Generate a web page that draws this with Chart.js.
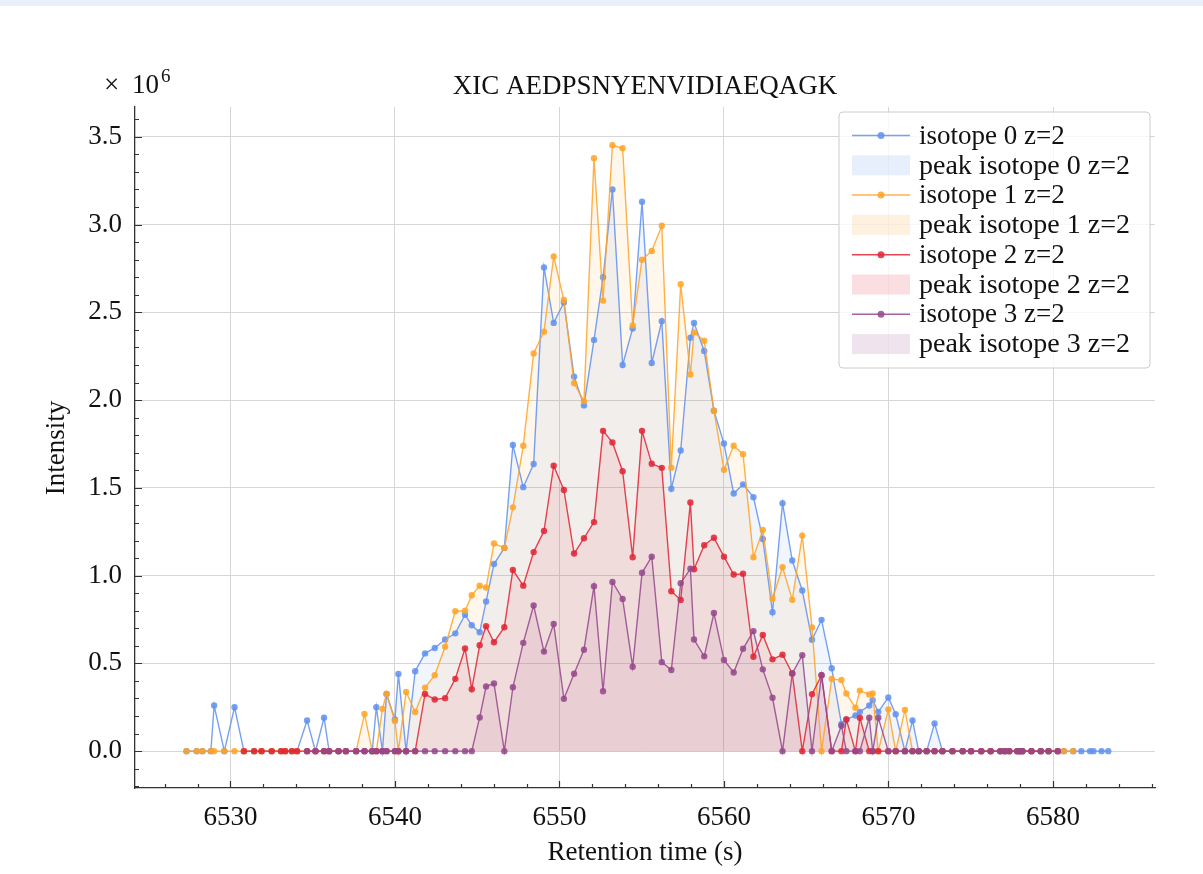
<!DOCTYPE html>
<html>
<head>
<meta charset="utf-8">
<script src="https://cdn.jsdelivr.net/npm/chart.js@4.4.0/dist/chart.umd.min.js"></script>
<style>
  html, body { margin: 0; padding: 0; background: #fff; }
  #strip { position: absolute; left: 0; top: 0; width: 1203px; height: 6px; background: #e8f0fa; }
</style>
</head>
<body>
<div id="strip"></div>
<canvas id="my_canvas" width="1203" height="874"></canvas>
<script>
// retention times (s), shared by all isotopes
const retentionTimes = [
  6527.33, 6527.95, 6528.30, 6528.81, 6529.01, 6529.63, 6530.25, 6530.82, 6531.44, 6531.89,
  6532.51, 6533.08, 6533.33, 6533.74, 6534.05, 6534.66, 6535.17, 6535.69, 6536.00, 6536.57,
  6537.02, 6537.64, 6538.15, 6538.62, 6538.87, 6539.24, 6539.49, 6540.00, 6540.21, 6540.68,
  6541.23, 6541.83, 6542.42, 6543.05, 6543.67, 6544.26, 6544.67, 6545.15, 6545.54, 6546.02,
  6546.65, 6547.17, 6547.80, 6548.43, 6549.06, 6549.65, 6550.27, 6550.89, 6551.49, 6552.10,
  6552.65, 6553.22, 6553.84, 6554.45, 6555.02, 6555.61, 6556.22, 6556.80, 6557.37, 6557.96,
  6558.18, 6558.80, 6559.39, 6560.00, 6560.59, 6561.16, 6561.79, 6562.36, 6562.95, 6563.56,
  6564.15, 6564.76, 6565.35, 6565.93, 6566.55, 6567.14, 6567.44, 6567.99, 6568.26, 6568.83,
  6569.04, 6569.38, 6569.99, 6570.44, 6571.00, 6571.46, 6571.84, 6572.32, 6572.80, 6573.28,
  6573.89, 6574.51, 6575.02, 6575.64, 6576.21, 6576.80, 6577.07, 6577.34, 6577.83, 6577.99,
  6578.14, 6578.69, 6579.26, 6579.73, 6580.29, 6580.66, 6581.23, 6581.72, 6582.25, 6582.46,
  6582.95, 6583.36
];

// intensities in units of 1e6, null = no scan for that isotope
const isotope0 = [
  0, 0, 0, 0, 0.26, 0, 0.25, 0, 0, 0,
  0, 0, 0, 0, 0, 0.175, 0, 0.19, 0, 0,
  0, 0, 0, 0, 0.25, 0, 0.325, 0.18, 0.44, 0,
  0.455, 0.557, 0.588, 0.636, 0.671, 0.777, 0.717, 0.677, 0.853, 1.066,
  1.158, 1.744, 1.504, 1.636, 2.756, 2.44, 2.556, 2.134, 1.97, 2.343,
  2.7, 3.2, 2.2, 2.408, 3.13, 2.212, 2.45, 1.495, 1.713, 2.355,
  2.44, 2.28, 1.94, 1.753, 1.468, 1.52, 1.447, 1.209, 0.791, 1.413,
  1.086, 0.915, 0.635, 0.748, 0.472, 0.155, 0.18, 0.203, 0.224, 0.26,
  0.29, 0.224, 0.306, 0.21, 0, 0.175, 0, 0, 0.158, 0,
  0, 0, 0, 0, 0, 0, 0, 0, 0, 0,
  0, 0, 0, 0, 0, 0, 0, 0, 0, 0,
  0, 0
];
const isotope1 = [
  0, 0, 0, 0, 0, 0, 0, 0, 0, 0,
  0, 0, 0, 0, 0, 0, 0, 0, 0, 0,
  0, 0, 0.212, 0, 0, 0.241, 0.327, 0.172, 0, 0.337,
  0.223, 0.362, 0.433, 0.595, 0.797, 0.8, 0.888, 0.942, 0.932, 1.183,
  1.158, 1.389, 1.74, 2.266, 2.39, 2.818, 2.57, 2.096, 1.994, 3.378,
  2.567, 3.452, 3.435, 2.425, 2.8, 2.85, 2.993, 1.615, 2.66, 2.146,
  2.386, 2.338, 1.94, 1.603, 1.74, 1.692, 1.105, 1.26, 0.868, 1.048,
  0.862, 1.228, 0.705, 0, 0.411, 0.405, 0.328, 0.247, 0.345, 0.323,
  0.328, 0, 0.238, 0, 0.235, 0, 0, 0, 0, 0,
  0, 0, 0, 0, 0, 0, 0, 0, 0, 0,
  0, 0, 0, 0, 0, 0, 0, null, null, null,
  null, null
];
const isotope2 = [
  null, null, null, null, null, null, null, 0, 0, 0,
  0, 0, 0, 0, 0, 0, 0, 0, 0, 0,
  0, 0, 0, 0, 0, 0, 0, 0, 0, 0,
  0, 0.326, 0.294, 0.302, 0.412, 0.585, 0.353, 0.603, 0.712, 0.62,
  0.706, 1.032, 0.943, 1.134, 1.254, 1.626, 1.488, 1.126, 1.213, 1.305,
  1.825, 1.759, 1.595, 1.105, 1.825, 1.637, 1.614, 0.911, 0.861, 1.417,
  1.036, 1.173, 1.216, 1.108, 1.006, 1.011, 0.538, 0.662, 0.523, 0.549,
  0.443, 0, 0.325, 0.432, 0, 0, 0.18, 0, 0.19, 0,
  0, 0, 0, 0, 0, 0, 0, 0, 0, 0,
  0, 0, 0, 0, 0, 0, 0, 0, 0, 0,
  0, 0, 0, 0, 0, null, null, null, null, null,
  null, null
];
const isotope3 = [
  null, null, null, null, null, null, null, null, null, null,
  null, null, null, null, null, 0, 0, 0, 0, 0,
  0, 0, 0, 0, 0, 0, 0, 0, 0, 0,
  0, 0, 0, 0, 0, 0, 0, 0.192, 0.368, 0.386,
  0, 0.364, 0.617, 0.83, 0.567, 0.724, 0.298, 0.441, 0.578, 0.94,
  0.341, 0.964, 0.867, 0.481, 1.016, 1.108, 0.507, 0.462, 0.957, 1.04,
  0.636, 0.54, 0.787, 0.519, 0.448, 0.583, 0.684, 0.466, 0.304, 0,
  0.443, 0.547, 0, 0.433, 0, 0.145, 0, 0, 0, 0.19,
  0, 0.19, 0, 0, 0, 0, 0, 0, 0, 0,
  0, 0, 0, 0, 0, 0, 0, 0, 0, 0,
  0, 0, 0, 0, 0, null, null, null, null, null,
  null, null
];

// integration window of each peak (s)
const peakStart = [6539.24, 6537.64, 6541.23, 6544.67];
const peakEnd = [6573.28, 6571.46, 6569.04, 6569.38];

const seriesLabels = ['isotope 0 z=2', 'isotope 1 z=2', 'isotope 2 z=2', 'isotope 3 z=2'];
const peakLabels = ['peak isotope 0 z=2', 'peak isotope 1 z=2', 'peak isotope 2 z=2', 'peak isotope 3 z=2'];

const xTicks = [6530, 6540, 6550, 6560, 6570, 6580];
const yTicks = [0, 0.5, 1.0, 1.5, 2.0, 2.5, 3.0, 3.5];

const seriesValues = [isotope0, isotope1, isotope2, isotope3];
const seriesRgb = ['95,145,238', '255,163,38', '226,35,52', '148,72,140'];
const FONT = "'Liberation Serif', 'Times New Roman', serif";

function pointsOf(values, from, to){
    const pts = [];
    retentionTimes.forEach((t, i) => {
        const v = values[i];
        if(v === null || t < from || t > to) return;
        pts.push({x: t, y: v});
    });
    return pts;
}

const datasets = [];
seriesValues.forEach((values, i) => {
    datasets.push({
        label: seriesLabels[i],
        data: pointsOf(values, -Infinity, Infinity),
        borderColor: 'rgba(' + seriesRgb[i] + ',0.85)',
        backgroundColor: 'rgba(' + seriesRgb[i] + ',0.85)',
        borderWidth: 1.4,
        pointRadius: 3.2,
        pointBorderWidth: 0,
        pointHoverRadius: 3.2,
        fill: false,
        tension: 0,
        order: 3 - i,
        kind: 'line'
    });
    datasets.push({
        label: peakLabels[i],
        data: pointsOf(values, peakStart[i], peakEnd[i]),
        borderWidth: 0,
        borderColor: 'rgba(0,0,0,0)',
        backgroundColor: 'rgba(' + seriesRgb[i] + ',0.085)',
        legendColor: 'rgba(' + seriesRgb[i] + ',0.15)',
        pointRadius: 0,
        fill: 'origin',
        tension: 0,
        order: 20 - i,
        kind: 'fill'
    });
});

// inward major + minor ticks, like the original axes
const insideTicks = {
    id: 'insideTicks',
    afterDraw(chart){
        const {ctx, chartArea: a, scales: {x, y}} = chart;
        ctx.save();
        ctx.strokeStyle = '#333';
        ctx.lineWidth = 1.2;
        ctx.beginPath();
        for(let v = 6526; v <= 6586; v += 2){
            const px = Math.round(x.getPixelForValue(v)) + 0.5;
            const len = v % 10 === 0 ? 7 : 4;
            ctx.moveTo(px, a.bottom);
            ctx.lineTo(px, a.bottom - len);
        }
        for(let k = -2; k <= 36; k++){
            const py = Math.round(y.getPixelForValue(k / 10)) + 0.5;
            const len = k % 5 === 0 ? 7 : 4;
            ctx.moveTo(a.left, py);
            ctx.lineTo(a.left + len, py);
        }
        ctx.stroke();
        ctx.restore();
    }
};

// titles, exponent and legend box
const extraText = {
    id: 'extraText',
    afterDraw(chart){
        const {ctx, chartArea: a} = chart;
        ctx.save();
        ctx.fillStyle = '#111';
        ctx.font = '27px ' + FONT;
        ctx.textAlign = 'center';
        ctx.textBaseline = 'middle';
        ctx.fillText('XIC AEDPSNYENVIDIAEQAGK', (a.left + a.right) / 2, 87);
        ctx.fillText('Retention time (s)', (a.left + a.right) / 2, 853);
        ctx.save();
        ctx.translate(57, 448);
        ctx.rotate(-Math.PI / 2);
        ctx.fillText('Intensity', 0, 0);
        ctx.restore();

        ctx.textAlign = 'left';
        ctx.textBaseline = 'alphabetic';
        ctx.fillText('\u00d7', 104, 93);
        ctx.fillText('10', 132, 93);
        ctx.font = '19px ' + FONT;
        ctx.fillText('6', 161, 82);

        // legend
        const bx = 839, by = 112, bw = 311, bh = 256, r = 4;
        ctx.beginPath();
        ctx.moveTo(bx + r, by);
        ctx.arcTo(bx + bw, by, bx + bw, by + bh, r);
        ctx.arcTo(bx + bw, by + bh, bx, by + bh, r);
        ctx.arcTo(bx, by + bh, bx, by, r);
        ctx.arcTo(bx, by, bx + bw, by, r);
        ctx.closePath();
        ctx.fillStyle = 'rgba(255,255,255,0.8)';
        ctx.fill();
        ctx.strokeStyle = '#cccccc';
        ctx.lineWidth = 1;
        ctx.stroke();

        ctx.textBaseline = 'middle';
        chart.data.datasets.forEach((ds, i) => {
            const rowY = 135.5 + i * 29.8;
            if(ds.kind === 'line'){
                ctx.strokeStyle = ds.borderColor;
                ctx.lineWidth = 1.5;
                ctx.beginPath();
                ctx.moveTo(852, rowY);
                ctx.lineTo(910, rowY);
                ctx.stroke();
                ctx.fillStyle = ds.backgroundColor;
                ctx.beginPath();
                ctx.arc(881, rowY, 3.5, 0, Math.PI * 2);
                ctx.fill();
            } else {
                ctx.fillStyle = ds.legendColor;
                ctx.fillRect(852, rowY - 10, 58, 20);
            }
            ctx.fillStyle = '#111';
            ctx.font = (ds.kind === 'fill' ? '28px ' : '27px ') + FONT;
            ctx.fillText(ds.label, 919, rowY + 1);
        });
        ctx.restore();
    }
};

const canvas_element = document.getElementById('my_canvas').getContext('2d');

const the_chart = new Chart(canvas_element, {
    type: 'line',
    data: { datasets: datasets },
    options: {
        responsive: false,
        animation: false,
        events: [],
        layout: { padding: { left: 0, right: 48, top: 107, bottom: 0 } },
        plugins: {
            legend: { display: false },
            tooltip: { enabled: false },
            title: { display: false }
        },
        scales: {
            x: {
                type: 'linear',
                min: 6524.2,
                max: 6586.2,
                afterBuildTicks: s => { s.ticks = xTicks.map(v => ({value: v})); },
                afterFit: s => { s.height = 86; },
                grid: { color: '#d6d6d6', lineWidth: 1, drawTicks: false },
                border: { display: true, color: '#333', width: 1.3 },
                ticks: {
                    font: { family: FONT, size: 27 },
                    color: '#111',
                    padding: 14,
                    maxRotation: 0,
                    callback: v => String(v)
                }
            },
            y: {
                type: 'linear',
                min: -0.21,
                max: 3.67,
                afterBuildTicks: s => { s.ticks = yTicks.map(v => ({value: v})); },
                afterFit: s => { s.width = 135; },
                grid: { color: '#d6d6d6', lineWidth: 1, drawTicks: false },
                border: { display: true, color: '#333', width: 1.3 },
                ticks: {
                    font: { family: FONT, size: 27 },
                    color: '#111',
                    padding: 13,
                    callback: v => v.toFixed(1)
                }
            }
        }
    },
    plugins: [insideTicks, extraText]
});
</script>
</body>
</html>
